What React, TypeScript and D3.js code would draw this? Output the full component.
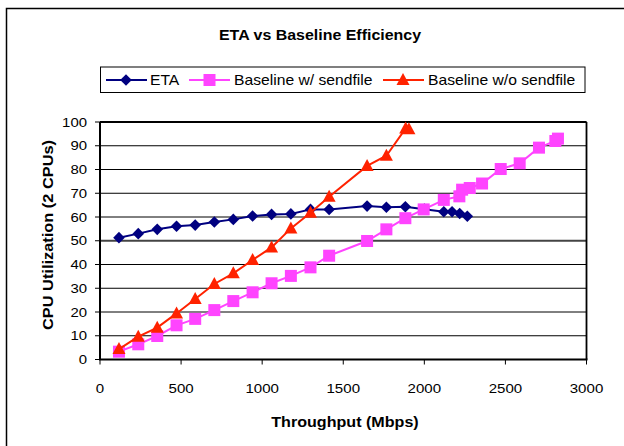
import React from "react";
import * as d3 from "d3";

const etaX = [117, 236, 353, 472, 587, 705, 822, 941, 1058, 1177, 1298, 1413, 1647, 1766, 1883, 2000, 2120, 2171, 2218, 2265];
const etaY = [51.3, 53, 54.8, 56.1, 56.6, 57.9, 59, 60.4, 61.1, 61.3, 63.2, 63.2, 64.6, 64.1, 64.3, 63.3, 62.2, 62.2, 61.5, 60.3];

const withX = [117, 236, 353, 472, 587, 705, 822, 941, 1058, 1177, 1298, 1413, 1647, 1766, 1883, 1996, 2120, 2216, 2233, 2280, 2356, 2471, 2588, 2707, 2808, 2824];
const withY = [3.3, 6.4, 9.9, 14.4, 17.1, 20.8, 24.6, 28.3, 32.1, 35.2, 38.8, 43.7, 49.9, 54.8, 59.5, 63.2, 67.2, 68.7, 71.5, 72.2, 74.1, 80.2, 82.6, 89.2, 92, 93];

const woX = [117, 236, 353, 472, 587, 705, 822, 941, 1058, 1177, 1298, 1413, 1647, 1766, 1885, 1905];
const woY = [4.4, 9.6, 13.4, 19.4, 25.5, 31.8, 36.3, 41.9, 47.2, 55.2, 61.8, 68.5, 81.5, 85.8, 97.3, 97];

const xTicks = [0, 500, 1000, 1500, 2000, 2500, 3000];
const yTicks = [0, 10, 20, 30, 40, 50, 60, 70, 80, 90, 100];

const seriesNames = ["ETA", "Baseline w/ sendfile", "Baseline w/o sendfile"];
const colors = ["#000080", "#ff44ff", "#ff2200"];

const FONT = "'Liberation Sans', Arial, sans-serif";

function T({
  x,
  y,
  children,
  size = 13,
  sx = 1.15,
  anchor = "start",
  bold = false,
  rotate = 0,
}: {
  x: number;
  y: number;
  children: React.ReactNode;
  size?: number;
  sx?: number;
  anchor?: "start" | "middle" | "end";
  bold?: boolean;
  rotate?: number;
}) {
  return (
    <text
      transform={`translate(${x},${y}) rotate(${rotate}) scale(${sx},1)`}
      textAnchor={anchor}
      fontSize={size}
      fontWeight={bold ? "bold" : "normal"}
    >
      {children}
    </text>
  );
}

function Marker({ kind, x, y, color }: { kind: number; x: number; y: number; color: string }) {
  if (kind === 0) {
    const r = 5.8;
    return <path d={`M${x},${y - r}L${x + r},${y}L${x},${y + r}L${x - r},${y}Z`} fill={color} />;
  }
  if (kind === 1) {
    const s = 6;
    return <rect x={x - s} y={y - s} width={2 * s} height={2 * s} fill={color} />;
  }
  const w = 6.5;
  return <path d={`M${x},${y - 7}L${x + w},${y + 5}L${x - w},${y + 5}Z`} fill={color} />;
}

export default function App() {
  const x = d3.scaleLinear().domain([0, 3000]).range([100, 586.5]);
  const y = d3.scaleLinear().domain([0, 100]).range([359.5, 122]);
  const line = d3
    .line<[number, number]>()
    .x((d) => x(d[0]))
    .y((d) => y(d[1]));

  const data: [number, number][][] = [
    etaX.map((v, i) => [v, etaY[i]]),
    withX.map((v, i) => [v, withY[i]]),
    woX.map((v, i) => [v, woY[i]]),
  ];

  const legendItems = [
    { lx: 106, mx: 126, tx: 150 },
    { lx: 189, mx: 209.5, tx: 234 },
    { lx: 383, mx: 403, tx: 428 },
  ];

  return (
    <svg
      width={624}
      height={446}
      style={{ position: "absolute", left: 0, top: 0, display: "block" }}
      fontFamily={FONT}
    >
      <rect x={0} y={0} width={624} height={446} fill="#fff" />
      <path d="M6.5,446V8.5H624" fill="none" stroke="#000" strokeWidth={1.5} />

      <T x={320} y={40} anchor="middle" size={14} sx={1.14} bold>
        ETA vs Baseline Efficiency
      </T>

      {/* legend */}
      <rect x={100.5} y={67} width={484.5} height={25.5} fill="#fff" stroke="#000" strokeWidth={1} />
      {legendItems.map((it, i) => (
        <g key={i}>
          <line x1={it.lx} x2={it.lx + 41} y1={80} y2={80} stroke={colors[i]} strokeWidth={2} />
          <Marker kind={i} x={it.mx} y={80} color={colors[i]} />
          <T x={it.tx} y={85} size={14} sx={1.12}>
            {seriesNames[i]}
          </T>
        </g>
      ))}

      {/* gridlines */}
      {yTicks.map((t) =>
        t === 0 ? null : (
          <line
            key={t}
            x1={100}
            x2={586.5}
            y1={y(t)}
            y2={y(t)}
            stroke={t === 50 ? "#444" : "#000"}
            strokeWidth={t === 50 ? 1.8 : 1}
          />
        )
      )}
      {/* plot frame */}
      <line x1={100} x2={586.5} y1={y(100)} y2={y(100)} stroke="#000" strokeWidth={1.8} />
      <line x1={586.5} x2={586.5} y1={y(100)} y2={y(0)} stroke="#000" strokeWidth={1.8} />
      <line x1={100} x2={100} y1={y(100)} y2={y(0)} stroke="#000" strokeWidth={2} />
      <line x1={99} x2={587.5} y1={y(0)} y2={y(0)} stroke="#000" strokeWidth={2} />

      {/* y ticks */}
      {yTicks.map((t) => (
        <g key={t}>
          <line x1={95} x2={100} y1={y(t)} y2={y(t)} stroke="#000" strokeWidth={1} />
          <T x={87} y={y(t) + 4.5} anchor="end" size={13} sx={1.15}>
            {t}
          </T>
        </g>
      ))}
      {/* x ticks */}
      {xTicks.map((t) => (
        <g key={t}>
          <line x1={x(t)} x2={x(t)} y1={y(0)} y2={y(0) + 5} stroke="#000" strokeWidth={1} />
          <T x={x(t)} y={393} anchor="middle" size={13} sx={1.16}>
            {t}
          </T>
        </g>
      ))}

      <T x={345} y={427} anchor="middle" size={14} sx={1.15} bold>
        Throughput (Mbps)
      </T>
      <T x={52.5} y={235} anchor="middle" size={14} sx={1.17} bold rotate={-90}>
        CPU Utilization (2 CPUs)
      </T>

      {/* series */}
      {data.map((d, i) => (
        <g key={i}>
          <path d={line(d) || ""} fill="none" stroke={colors[i]} strokeWidth={2} />
          {d.map((p, j) => (
            <Marker key={j} kind={i} x={x(p[0])} y={y(p[1])} color={colors[i]} />
          ))}
        </g>
      ))}
    </svg>
  );
}
